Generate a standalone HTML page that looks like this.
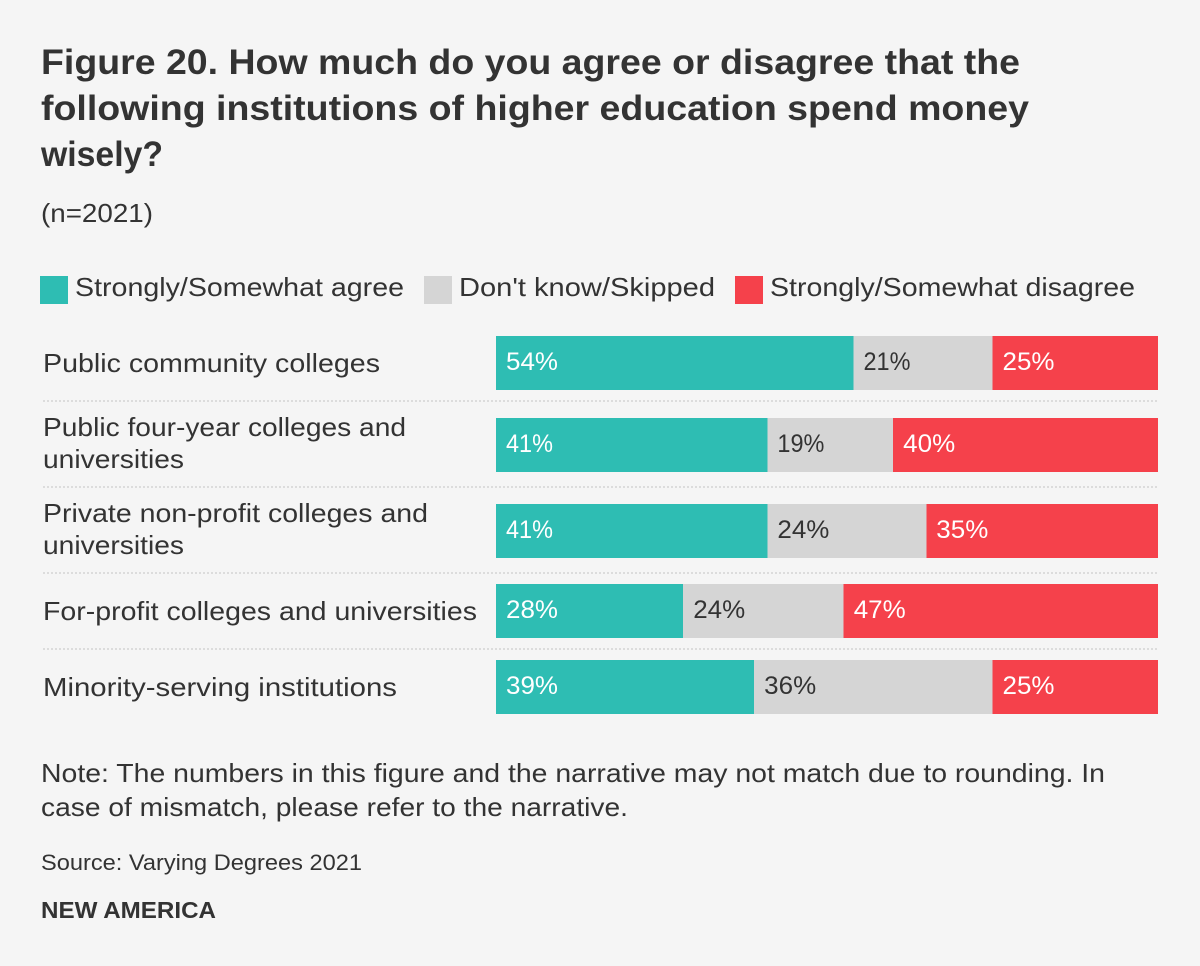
<!DOCTYPE html>
<html lang="en">
<head>
<meta charset="utf-8">
<title>Figure 20</title>
<style>
html,body{margin:0;padding:0;background:#f5f5f5;}
svg{display:block;}
text{font-family:"Liberation Sans",sans-serif;fill:#333;}
</style>
</head>
<body>
<svg id="chart" xmlns="http://www.w3.org/2000/svg" width="1200" height="966" viewBox="0 0 1200 966">
<rect x="0" y="0" width="1200" height="966" fill="#f5f5f5"/>
<g font-weight="700" font-size="35">
<text x="41" y="74" textLength="979" lengthAdjust="spacingAndGlyphs">Figure 20. How much do you agree or disagree that the</text>
<text x="41" y="120" textLength="988" lengthAdjust="spacingAndGlyphs">following institutions of higher education spend money</text>
<text x="41" y="166" textLength="122" lengthAdjust="spacingAndGlyphs">wisely?</text>
</g>
<text x="41" y="222" font-size="26" textLength="112" lengthAdjust="spacingAndGlyphs">(n=2021)</text>
<g font-size="26">
<g>
<rect x="40" y="276" width="28" height="28" fill="#2ebdb3"/>
<text x="75" y="296" textLength="329" lengthAdjust="spacingAndGlyphs">Strongly/Somewhat agree</text>
</g>
<g>
<rect x="424" y="276" width="28" height="28" fill="#d5d5d5"/>
<text x="459" y="296" textLength="256" lengthAdjust="spacingAndGlyphs">Don't know/Skipped</text>
</g>
<g>
<rect x="735" y="276" width="28" height="28" fill="#f5414b"/>
<text x="770" y="296" textLength="365" lengthAdjust="spacingAndGlyphs">Strongly/Somewhat disagree</text>
</g>
</g>
<g id="rows"></g>
<g font-size="26">
<text x="41" y="782" textLength="1064" lengthAdjust="spacingAndGlyphs">Note: The numbers in this figure and the narrative may not match due to rounding. In</text>
<text x="41" y="816" textLength="587" lengthAdjust="spacingAndGlyphs">case of mismatch, please refer to the narrative.</text>
</g>
<text x="41" y="870" font-size="22" textLength="321" lengthAdjust="spacingAndGlyphs">Source: Varying Degrees 2021</text>
<text x="41" y="918" font-size="23" font-weight="700" textLength="175" lengthAdjust="spacingAndGlyphs">NEW AMERICA</text>
</svg>
<script>
const categories = [
  "Public community colleges",
  "Public four-year colleges and\nuniversities",
  "Private non-profit colleges and\nuniversities",
  "For-profit colleges and universities",
  "Minority-serving institutions"
];
const agree = [54, 41, 41, 28, 39];
const dontKnow = [21, 19, 24, 24, 36];
const disagree = [25, 40, 35, 47, 25];

const NS = "http://www.w3.org/2000/svg";
const rowsGroup = document.getElementById("rows");
const plotLeft = 496, plotRight = 1158, labelX = 43;
const barHeight = 54, lineHeight = 32, rowGap = 11;
const firstRowTop = 336;
const seriesStyles = [
  {key: "agree", fill: "#2ebdb3", text: "#ffffff"},
  {key: "dont-know", fill: "#d5d5d5", text: "#333333"},
  {key: "disagree", fill: "#f5414b", text: "#ffffff"}
];
// Font-fit widths: the reference typeface sets these lines at these lengths.
const labelFit = new Map([
  ["Public community colleges", 337],
  ["Public four-year colleges and", 363],
  ["Private non-profit colleges and", 385],
  ["universities", 141],
  ["For-profit colleges and universities", 434],
  ["Minority-serving institutions", 354]
]);
function xScale(share, total) {
  return plotLeft + (share / total) * (plotRight - plotLeft);
}
function svgEl(tag, attrs) {
  const el = document.createElementNS(NS, tag);
  for (const k in attrs) el.setAttribute(k, attrs[k]);
  return el;
}
function valueFit(text) {
  return 52 - 5 * (text.split("1").length - 1);
}
let top_ = firstRowTop;
categories.forEach(function (cat, i) {
  const lines = cat.split("\n");
  const rowHeight = Math.max(barHeight, lines.length * lineHeight);
  const multi = lines.length > 1;
  const center = top_ + rowHeight / 2;
  const barCenter = center + (multi ? 1 : 0);
  const row = svgEl("g", {});
  
  

  lines.forEach(function (line, j) {
    const base = center + (multi ? 8 : 9) - (lines.length - 1) * lineHeight / 2 + j * lineHeight;
    const t = svgEl("text", {x: labelX, y: base, "font-size": 26});
    if (labelFit.has(line)) {
      t.setAttribute("textLength", labelFit.get(line));
      t.setAttribute("lengthAdjust", "spacingAndGlyphs");
    }
    
    
    t.textContent = line;
    row.appendChild(t);
  });

  const vals = [agree[i], dontKnow[i], disagree[i]];
  const total = vals[0] + vals[1] + vals[2];
  let cum = 0;
  vals.forEach(function (v, s) {
    const x0 = xScale(cum, total), x1 = xScale(cum + v, total);
    const r = svgEl("rect", {x: x0, y: barCenter - barHeight / 2, width: x1 - x0, height: barHeight, fill: seriesStyles[s].fill, "shape-rendering": "crispEdges"});
    
    
    row.appendChild(r);
    const label = v + "%";
    const vt = svgEl("text", {x: x0 + 10, y: barCenter + 7, "font-size": 25, textLength: valueFit(label), lengthAdjust: "spacingAndGlyphs"});
    vt.style.fill = seriesStyles[s].text;
    
    
    vt.textContent = label;
    row.appendChild(vt);
    cum += v;
  });
  rowsGroup.appendChild(row);

  const bottom = top_ + rowHeight;
  if (i < categories.length - 1) {
    const sep = svgEl("line", {x1: labelX, x2: plotRight, y1: bottom + rowGap, y2: bottom + rowGap, stroke: "#dcdcdc", "stroke-width": 2, "stroke-dasharray": "2 2"});
    
    
    rowsGroup.appendChild(sep);
  }
  top_ = bottom + 2 * rowGap;
});
</script>
</body>
</html>
